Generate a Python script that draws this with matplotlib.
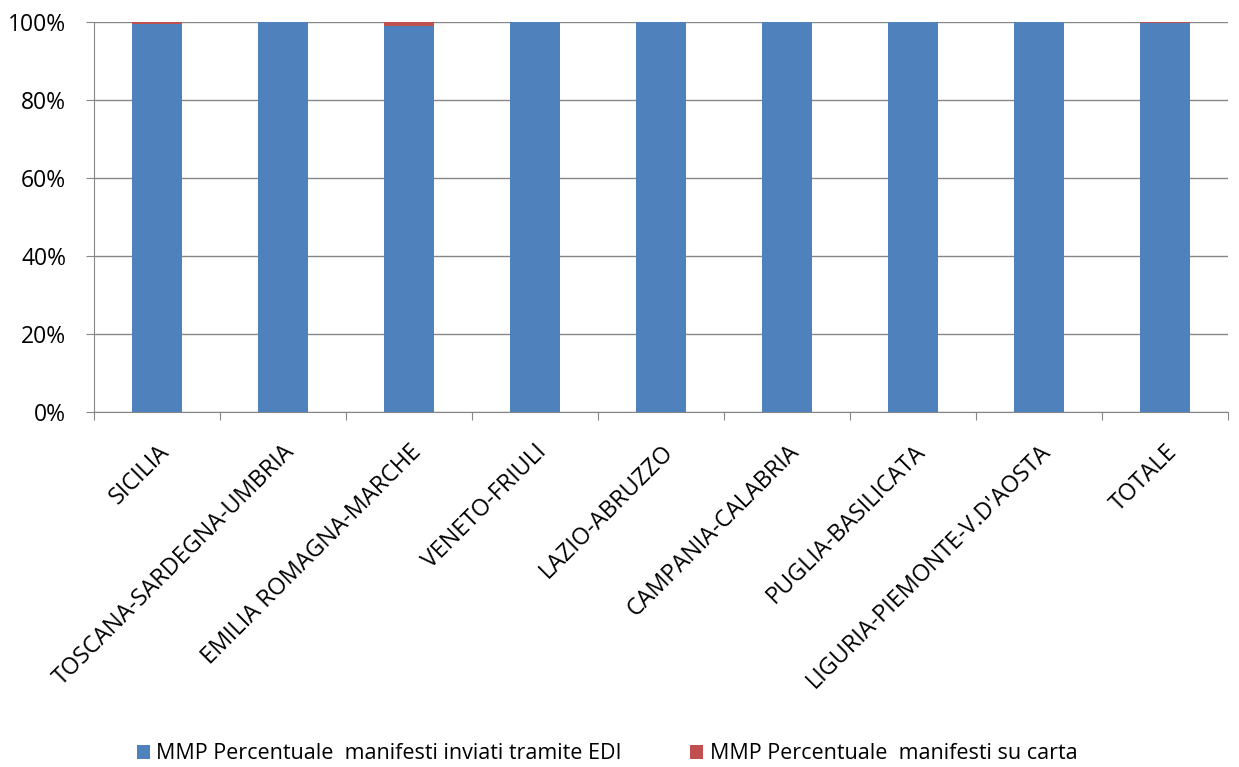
import numpy as np
import matplotlib
matplotlib.use("Agg")
import matplotlib.pyplot as plt
from matplotlib.ticker import PercentFormatter

regions = ["SICILIA", "TOSCANA-SARDEGNA-UMBRIA", "EMILIA ROMAGNA-MARCHE",
           "VENETO-FRIULI", "LAZIO-ABRUZZO", "CAMPANIA-CALABRIA",
           "PUGLIA-BASILICATA", "LIGURIA-PIEMONTE-V.D'AOSTA", "TOTALE"]
edi = [99.5, 100.0, 99.1, 100.0, 100.0, 100.0, 100.0, 100.0, 99.8]
carta = [0.5, 0.0, 0.9, 0.0, 0.0, 0.0, 0.0, 0.0, 0.2]

plt.rcParams["font.family"] = ["Open Sans", "DejaVu Sans"]

fig = plt.figure(figsize=(12.39, 7.67), dpi=100)
ax = fig.add_axes([94 / 1239, 1 - 412 / 767, (1228 - 94) / 1239, (412 - 22) / 767])

x = np.arange(len(regions))
ax.bar(x, edi, width=0.4, color="#4F81BD", label="MMP Percentuale  manifesti inviati tramite EDI", zorder=3)
ax.bar(x, carta, width=0.4, bottom=edi, color="#C0504D", label="MMP Percentuale  manifesti su carta", zorder=3)

ax.set_xlim(-0.5, len(regions) - 0.5)
ax.set_ylim(0, 100)
ax.set_yticks(np.arange(0, 101, 20))
ax.yaxis.set_major_formatter(PercentFormatter(decimals=0))
ax.grid(axis="y", color="#868686", lw=1, zorder=0)

ax.set_xticks(np.arange(-0.5, len(regions), 1.0))
ax.set_xticklabels([])
ax.set_xticks(x, minor=True)
ax.set_xticklabels(regions, minor=True, rotation=45, ha="right", rotation_mode="anchor", fontsize=16.8)
ax.tick_params(axis="x", which="minor", length=0, pad=20)
ax.tick_params(axis="x", which="major", length=6, color="#868686")
ax.tick_params(axis="y", length=6, color="#868686", labelsize=16.5, pad=14)

for s in ["top", "right"]:
    ax.spines[s].set_visible(False)
for s in ["left", "bottom"]:
    ax.spines[s].set_color("#868686")

fig.legend(loc="lower center", bbox_to_anchor=(0.49, -0.022), ncol=2, frameon=False,
           fontsize=15.5, handlelength=0.6, handleheight=0.6, handletextpad=0.3, columnspacing=3.2)

fig.savefig("out.png", dpi=100)
